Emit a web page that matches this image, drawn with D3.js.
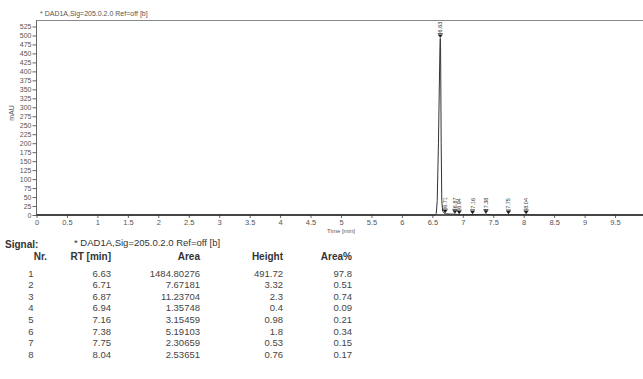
<!DOCTYPE html>
<html>
<head>
<meta charset="utf-8">
<script src="https://cdn.jsdelivr.net/npm/d3@7"></script>
<style>
  body { margin: 0; background: #fff; }
  text { font-family: "Liberation Sans", Arial, sans-serif; }
</style>
</head>
<body>
<div id="chart"></div>
<script>
// signal trace (time in min, signal in mAU)
const traceTime = [0, 6.50, 6.55, 6.565, 6.58, 6.60, 6.625, 6.63, 6.635, 6.645, 6.655, 6.67, 6.71, 6.80, 6.87, 6.94, 7.05, 7.16, 7.28, 7.38, 7.50, 7.75, 8.04, 8.2, 10];
const traceMau  = [0, 0, 0.5, 5, 40, 200, 470, 491.72, 470, 200, 40, 10, 3.32, 2.5, 2.3, 0.4, 0.8, 0.98, 1.4, 1.8, 0.3, 0.53, 0.76, 0, 0];

// peak table
const peakNr = [1, 2, 3, 4, 5, 6, 7, 8];
const peakRt = [6.63, 6.71, 6.87, 6.94, 7.16, 7.38, 7.75, 8.04];
const peakArea = ["1484.80276", "7.67181", "11.23704", "1.35748", "3.15459", "5.19103", "2.30659", "2.53651"];
const peakHeight = [491.72, 3.32, 2.3, 0.4, 0.98, 1.8, 0.53, 0.76];
const peakAreaPct = [97.8, 0.51, 0.74, 0.09, 0.21, 0.34, 0.15, 0.17];

const xTicks = d3.range(0, 10, 0.5);
const yTicks = d3.range(0, 526, 25);
const signalName = "* DAD1A,Sig=205.0.2.0  Ref=off [b]";

const width = 643, height = 379;

const svg = d3.select("#chart")
  .append("svg")
  .attr("width", width)
  .attr("height", height);

svg.append("rect").attr("width", width).attr("height", height).attr("fill", "#fff");

const x = d3.scaleLinear().domain([0, 10]).range([36.5, 645.5]);
const y = d3.scaleLinear().domain([0, 525]).range([215, 26.5]);

// frame: left axis line and top border
svg.append("line")
  .attr("x1", 36.5).attr("x2", 36.5).attr("y1", 20).attr("y2", 215)
  .attr("stroke", "#666").attr("stroke-width", 1);
svg.append("line")
  .attr("x1", 36.5).attr("x2", width).attr("y1", 20.5).attr("y2", 20.5)
  .attr("stroke", "#888").attr("stroke-width", 1);

svg.append("text")
  .attr("x", 40).attr("y", 16)
  .attr("font-size", 7).attr("fill", "#555")
  .text(signalName);

// y axis
const yAxis = svg.append("g")
  .attr("transform", "translate(36.5,0)")
  .call(d3.axisLeft(y).tickValues(yTicks).tickSize(4).tickPadding(1));
yAxis.select(".domain").remove();
yAxis.selectAll("line").attr("stroke", "#666");
yAxis.selectAll("text").attr("font-size", 7).attr("fill", "#555")
  .attr("font-family", "Liberation Sans, Arial, sans-serif");

svg.append("text")
  .attr("transform", "translate(14,113) rotate(-90)")
  .attr("text-anchor", "middle")
  .attr("font-size", 7).attr("fill", "#555")
  .text("mAU");

// x axis
const xAxis = svg.append("g")
  .attr("transform", "translate(0,215)")
  .call(d3.axisBottom(x).tickValues(xTicks).tickSize(3).tickPadding(2)
    .tickFormat(d => String(d)));
xAxis.select(".domain").remove();
xAxis.selectAll("line").attr("stroke", "#666");
xAxis.selectAll("text").attr("font-size", 7.5).attr("fill", "#555")
  .attr("font-family", "Liberation Sans, Arial, sans-serif");

svg.append("text")
  .attr("x", x(5)).attr("y", 233)
  .attr("text-anchor", "middle")
  .attr("font-size", 6).attr("fill", "#555")
  .text("Time [min]");

// baseline
svg.append("line")
  .attr("x1", 36.5).attr("x2", width).attr("y1", y(0)).attr("y2", y(0))
  .attr("stroke", "#222").attr("stroke-width", 1.4);

// chromatogram trace
const trace = traceTime.map((t, i) => ({ t: t, v: traceMau[i] }));
const line = d3.line().x(d => x(d.t)).y(d => y(d.v));
svg.append("path")
  .datum(trace)
  .attr("fill", "none")
  .attr("stroke", "#333")
  .attr("stroke-width", 1)
  .attr("d", line);

// peak markers and rotated RT labels
const peaks = peakRt.map((rt, i) => ({ rt: rt, h: peakHeight[i] }));
const marks = svg.selectAll(".peak")
  .data(peaks)
  .enter().append("g")
  .attr("class", "peak")
  .attr("transform", d => "translate(" + x(d.rt) + "," + (y(d.h) - 0.5) + ")");

marks.append("path")
  .attr("d", "M-2.5,-3.5 L2.5,-3.5 L0,0 Z")
  .attr("fill", "#222");
marks.append("line")
  .attr("x1", -2.5).attr("x2", 2.5).attr("y1", -4.3).attr("y2", -4.3)
  .attr("stroke", "#222").attr("stroke-width", 0.8);
marks.append("text")
  .attr("transform", "translate(2,-5.5) rotate(-90)")
  .attr("font-size", 5.5).attr("fill", "#333")
  .text(d => d.rt.toFixed(2));

// peak table
const tbl = svg.append("g").attr("fill", "#333");

tbl.append("text")
  .attr("x", 5).attr("y", 248)
  .attr("font-size", 10).attr("font-weight", "bold")
  .text("Signal:");
tbl.append("text")
  .attr("x", 74).attr("y", 246)
  .attr("font-size", 9.5)
  .text(signalName);

const cols = [
  { head: "Nr.", x: 47, vx: 31, anchor: "end", vanchor: "middle", vals: peakNr },
  { head: "RT [min]", x: 111, vx: 111, anchor: "end", vanchor: "end", vals: peakRt.map(d => d.toFixed(2)) },
  { head: "Area", x: 200, vx: 200, anchor: "end", vanchor: "end", vals: peakArea },
  { head: "Height", x: 283, vx: 283, anchor: "end", vanchor: "end", vals: peakHeight },
  { head: "Area%", x: 352, vx: 352, anchor: "end", vanchor: "end", vals: peakAreaPct }
];

cols.forEach(c => {
  tbl.append("text")
    .attr("x", c.x).attr("y", 260)
    .attr("text-anchor", c.anchor)
    .attr("font-size", 10).attr("font-weight", "bold")
    .text(c.head);
  tbl.selectAll(null)
    .data(c.vals)
    .enter().append("text")
    .attr("x", c.vx)
    .attr("y", (d, i) => 276.5 + i * 11.6)
    .attr("text-anchor", c.vanchor)
    .attr("font-size", 9.5)
    .attr("fill", "#444")
    .text(d => String(d));
});
</script>
</body>
</html>
